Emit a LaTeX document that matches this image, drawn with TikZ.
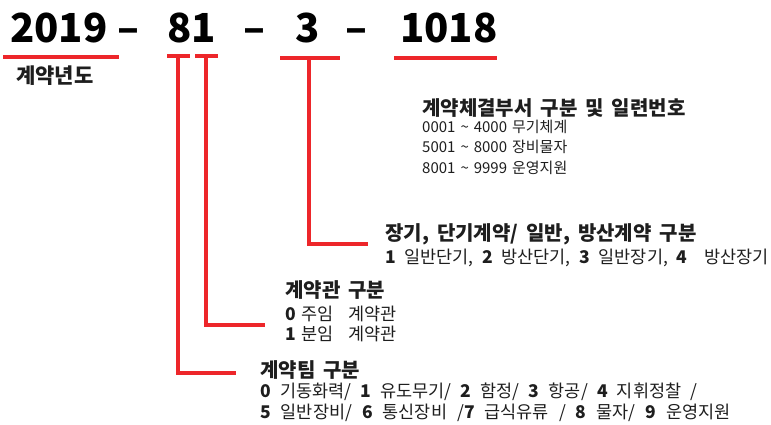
\documentclass[tikz,border=0pt]{standalone}
\usepackage{fontspec}
\setmainfont{Noto Sans CJK KR}
\definecolor{lnred}{RGB}{237,38,42}
\definecolor{txt}{RGB}{30,30,30}
\newcommand\myheadfont{\fontsize{20}{20}\selectfont\bfseries\setlength{\spaceskip}{8pt}}
\newcommand\mybodyfont{\fontsize{17.5}{17.5}\selectfont\setlength{\spaceskip}{8.6pt}}
\newcommand\mysmallfont{\fontsize{15}{15}\selectfont\setlength{\spaceskip}{5pt}}
\begin{document}
\begin{tikzpicture}[x=1pt,y=-1pt,
  big/.style={font=\fontsize{40}{40}\selectfont\bfseries, inner sep=0pt, anchor=base west},
  head/.style={font=\myheadfont, text=txt, inner sep=0pt, anchor=base west},
  body/.style={font=\mybodyfont, text=txt, inner sep=0pt, anchor=base west},
  smallbody/.style={font=\mysmallfont, text=txt, inner sep=0pt, anchor=base west},
  redline/.style={draw=lnred, line width=3.5pt}]
\useasboundingbox (0,0) rectangle (771,425);
% big code
\node[big] (n1) at (10,43) {2019};
\node[big] (d1) at (117,43) {–};
\node[big] (n2) at (167,43) {81};
\node[big] (d2) at (243,43) {–};
\node[big] (n3) at (295,43) {3};
\node[big] (d3) at (345,43) {–};
\node[big] (n4) at (400,43) {1018};
% labels
\node[head, font=\fontsize{21}{21}\selectfont\bfseries] (yr) at (16,84) {계약년도};
\node[head] (h1) at (422,116) {계약체결부서 구분 및 일련번호};
\node[smallbody] (b1a) at (422,132) {0001 \textasciitilde{} 4000 무기체계};
\node[smallbody] (b1b) at (422,153) {5001 \textasciitilde{} 8000 장비물자};
\node[smallbody] (b1c) at (422,174) {8001 \textasciitilde{} 9999 운영지원};
\node[head] (h2) at (385,240) {장기, 단기계약/ 일반, 방산계약 구분};
\node[body] (b2a) at (385,263) {\textbf{1} 일반단기, \textbf{2} 방산단기, \textbf{3} 일반장기, \textbf{4}\hspace{17pt}방산장기};
\node[head] (h3) at (285,297) {계약관 구분};
\node[body, font=\fontsize{17.5}{17.5}\selectfont\setlength{\spaceskip}{6pt}] (b3a) at (285,320) {\textbf{0} 주임\hspace{14pt}계약관};
\node[body, font=\fontsize{17.5}{17.5}\selectfont\setlength{\spaceskip}{6pt}] (b3b) at (285,340) {\textbf{1} 분임\hspace{14pt}계약관};
\node[head] (h4) at (260,377) {계약팀 구분};
\node[body, font=\fontsize{17.5}{17.5}\selectfont\setlength{\spaceskip}{9.2pt}] (b4a) at (260,397) {\textbf{0} 기동화력/ \textbf{1} 유도무기/ \textbf{2} 함정/ \textbf{3} 항공/ \textbf{4} 지휘정찰 /};
\node[body, font=\fontsize{17.5}{17.5}\selectfont\setlength{\spaceskip}{10pt}] (b4b) at (260,418) {\textbf{5} 일반장비/ \textbf{6} 통신장비 /\textbf{7} 급식유류 / \textbf{8} 물자/ \textbf{9} 운영지원};
% connector coordinates
\coordinate (u1a) at (3,57);   \coordinate (u1b) at (119,57);
\coordinate (t1a) at (167,56); \coordinate (t1b) at (190,56);
\coordinate (t1t) at (178,56); \coordinate (t1c) at (178,373); \coordinate (t1e) at (236,373);
\coordinate (t2a) at (195,56); \coordinate (t2b) at (218,56);
\coordinate (t2t) at (206,56); \coordinate (t2c) at (206,325); \coordinate (t2e) at (265,325);
\coordinate (t3a) at (280,58); \coordinate (t3b) at (340,58);
\coordinate (t3t) at (309,58); \coordinate (t3c) at (309,244); \coordinate (t3e) at (368,244);
\coordinate (u4a) at (394,58); \coordinate (u4b) at (497,58);
\draw[redline] (u1a) -- (u1b);
\draw[redline] (t1a) -- (t1b);
\draw[redline] (t1t) -- (t1c) -- (t1e);
\draw[redline] (t2a) -- (t2b);
\draw[redline] (t2t) -- (t2c) -- (t2e);
\draw[redline] (t3a) -- (t3b);
\draw[redline] (t3t) -- (t3c) -- (t3e);
\draw[redline] (u4a) -- (u4b);
\end{tikzpicture}
\end{document}
